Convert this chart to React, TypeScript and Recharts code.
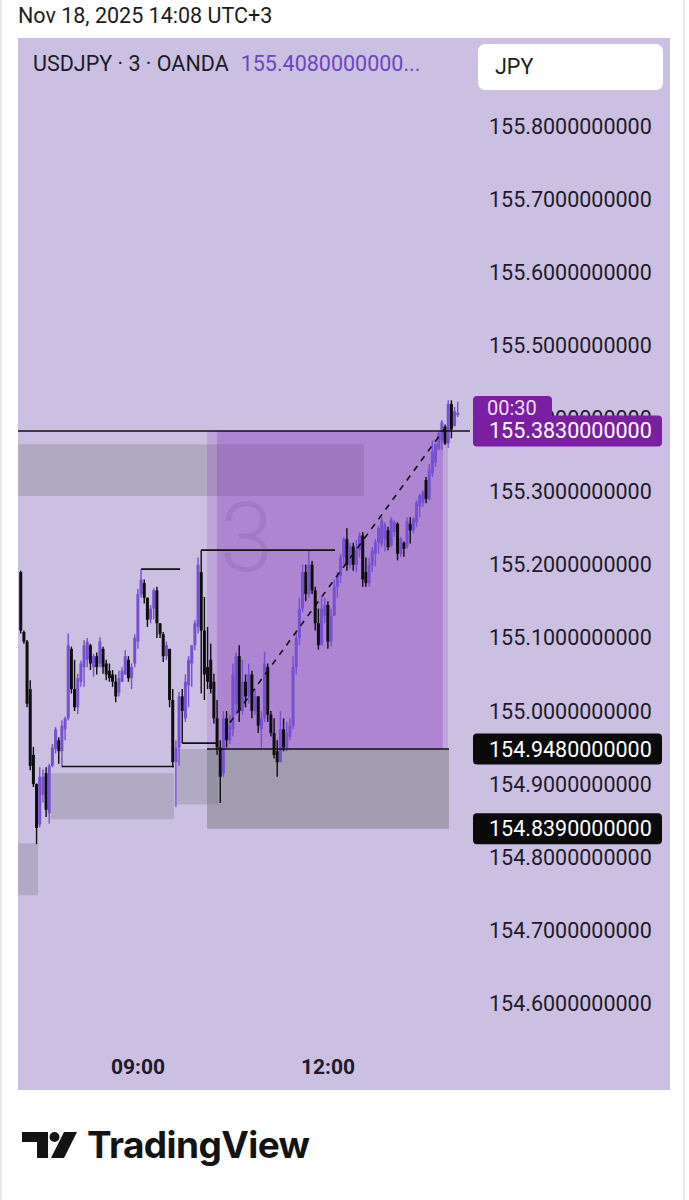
import React from 'react';
import {
  ComposedChart,
  Bar,
  XAxis,
  YAxis,
  ReferenceArea,
  ReferenceLine,
} from 'recharts';

// 3-minute USDJPY bars; index 0 is the 09:00 bar, the first visible bar is 07:09
const FIRST_BAR = -37;

// [open, high, low, close]
const candles: [number, number, number, number][] = [
  [155.19, 155.192, 155.106, 155.11],
  [155.108, 155.11, 155.092, 155.095],
  [155.095, 155.097, 155.005, 155.01],
  [155.03, 155.042, 154.919, 154.925],
  [154.94, 154.951, 154.896, 154.9],
  [154.9, 154.901, 154.818, 154.84],
  [154.845, 154.923, 154.841, 154.91],
  [154.885, 154.92, 154.875, 154.91],
  [154.915, 154.923, 154.855, 154.865],
  [154.86, 154.928, 154.846, 154.925],
  [154.925, 154.955, 154.923, 154.95],
  [154.948, 154.978, 154.942, 154.975],
  [154.96, 154.964, 154.928, 154.945],
  [154.945, 154.987, 154.923, 154.98],
  [154.975, 154.992, 154.96, 154.99],
  [154.99, 155.106, 154.987, 155.09],
  [155.085, 155.088, 155.024, 155.03],
  [155.03, 155.07, 155.0, 155.005],
  [155.005, 155.051, 154.996, 155.045],
  [155.04, 155.069, 155.033, 155.065],
  [155.06, 155.097, 155.033, 155.09],
  [155.07, 155.1, 155.06, 155.095],
  [155.09, 155.092, 155.056, 155.065],
  [155.06, 155.078, 155.047, 155.075],
  [155.075, 155.08, 155.05, 155.06],
  [155.065, 155.101, 155.06, 155.095],
  [155.085, 155.088, 155.051, 155.06],
  [155.065, 155.07, 155.042, 155.05],
  [155.055, 155.065, 155.04, 155.045],
  [155.05, 155.056, 155.033, 155.04],
  [155.04, 155.05, 155.012, 155.02],
  [155.025, 155.055, 155.02, 155.045],
  [155.04, 155.06, 155.04, 155.055],
  [155.05, 155.083, 155.05, 155.075],
  [155.07, 155.075, 155.04, 155.045],
  [155.045, 155.065, 155.03, 155.06],
  [155.065, 155.105, 155.06, 155.1],
  [155.095, 155.167, 155.085, 155.16],
  [155.16, 155.194, 155.155, 155.18],
  [155.175, 155.18, 155.147, 155.155],
  [155.155, 155.155, 155.115, 155.125],
  [155.125, 155.145, 155.12, 155.14],
  [155.14, 155.168, 155.125, 155.165],
  [155.165, 155.17, 155.1, 155.12],
  [155.12, 155.12, 155.1, 155.105],
  [155.105, 155.108, 155.067, 155.075],
  [155.075, 155.095, 155.07, 155.09],
  [155.085, 155.085, 155.005, 155.015],
  [155.015, 155.03, 154.923, 154.93],
  [154.93, 154.96, 154.869, 154.95],
  [154.95, 155.026, 154.925, 155.02],
  [155.02, 155.03, 154.956, 155.0],
  [154.99, 155.05, 154.985, 155.04],
  [155.035, 155.075, 155.005, 155.07],
  [155.065, 155.09, 155.033, 155.09],
  [155.09, 155.124, 155.083, 155.12],
  [155.115, 155.21, 155.106, 155.2],
  [155.19, 155.22, 155.024, 155.11],
  [155.11, 155.156, 155.015, 155.05],
  [155.06, 155.115, 155.03, 155.04],
  [155.07, 155.092, 155.024, 155.03],
  [155.04, 155.051, 154.983, 154.99],
  [154.99, 155.015, 154.94, 154.95],
  [154.95, 154.96, 154.874, 154.91],
  [154.915, 155.0, 154.91, 154.99],
  [154.99, 155.0, 154.95, 154.96],
  [154.96, 154.995, 154.955, 154.98],
  [154.975, 155.065, 154.965, 155.05],
  [155.01, 155.08, 154.995, 155.075],
  [155.075, 155.09, 154.985, 155.0],
  [155.0, 155.07, 154.995, 155.04],
  [155.04, 155.05, 155.005, 155.02],
  [155.02, 155.065, 155.01, 155.05],
  [155.05, 155.055, 154.99, 155.0],
  [155.0, 155.03, 154.995, 155.02],
  [155.02, 155.02, 154.97, 154.98],
  [154.975, 155.0, 154.95, 154.99],
  [154.99, 155.081, 154.985, 155.065],
  [155.06, 155.065, 154.985, 154.995],
  [154.995, 155.0, 154.965, 154.97],
  [154.97, 154.99, 154.935, 154.94],
  [154.945, 154.96, 154.91, 154.93],
  [154.93, 155.0, 154.93, 154.975],
  [154.975, 154.99, 154.945, 154.95],
  [154.95, 154.985, 154.945, 154.97],
  [154.965, 154.99, 154.96, 154.98],
  [154.98, 155.075, 154.975, 155.06],
  [155.06, 155.11, 155.05, 155.1],
  [155.1, 155.155, 155.09, 155.14],
  [155.14, 155.2, 155.135, 155.19],
  [155.19, 155.2, 155.15, 155.16],
  [155.16, 155.22, 155.155, 155.2],
  [155.2, 155.205, 155.16, 155.165],
  [155.165, 155.17, 155.11, 155.12],
  [155.12, 155.14, 155.084, 155.09],
  [155.09, 155.155, 155.09, 155.14],
  [155.13, 155.155, 155.12, 155.145],
  [155.145, 155.15, 155.085, 155.095],
  [155.095, 155.14, 155.088, 155.13],
  [155.13, 155.18, 155.13, 155.17],
  [155.17, 155.19, 155.155, 155.185],
  [155.185, 155.215, 155.175, 155.21],
  [155.21, 155.238, 155.2, 155.235],
  [155.235, 155.25, 155.192, 155.2],
  [155.2, 155.23, 155.195, 155.225],
  [155.225, 155.23, 155.192, 155.2],
  [155.2, 155.234, 155.19, 155.22],
  [155.22, 155.244, 155.21, 155.24],
  [155.24, 155.245, 155.17, 155.18],
  [155.19, 155.21, 155.17, 155.175],
  [155.175, 155.21, 155.17, 155.2],
  [155.2, 155.224, 155.19, 155.22],
  [155.215, 155.235, 155.198, 155.23],
  [155.23, 155.253, 155.215, 155.25],
  [155.228, 155.265, 155.224, 155.26],
  [155.235, 155.258, 155.218, 155.255],
  [155.247, 155.252, 155.22, 155.224],
  [155.226, 155.265, 155.224, 155.262],
  [155.245, 155.261, 155.238, 155.258],
  [155.256, 155.258, 155.206, 155.215],
  [155.215, 155.238, 155.211, 155.236],
  [155.23, 155.232, 155.211, 155.222],
  [155.225, 155.265, 155.222, 155.26],
  [155.256, 155.265, 155.229, 155.247],
  [155.247, 155.265, 155.243, 155.263],
  [155.258, 155.288, 155.252, 155.285],
  [155.28, 155.297, 155.265, 155.295],
  [155.285, 155.302, 155.279, 155.3],
  [155.316, 155.32, 155.284, 155.29],
  [155.29, 155.338, 155.288, 155.33],
  [155.325, 155.37, 155.32, 155.355],
  [155.34, 155.366, 155.334, 155.365],
  [155.358, 155.384, 155.357, 155.38],
  [155.37, 155.398, 155.357, 155.395],
  [155.389, 155.392, 155.364, 155.366],
  [155.366, 155.425, 155.36, 155.42],
  [155.42, 155.425, 155.373, 155.385],
  [155.39, 155.416, 155.389, 155.41],
  [155.405, 155.423, 155.402, 155.408],
];

const priceTicks = [154.6, 154.7, 154.8, 154.9, 155.0, 155.1, 155.2, 155.3, 155.4, 155.5, 155.6, 155.7, 155.8];
const timeTicks = [0, 60];
const timeLabels: Record<number, string> = { 0: '09:00', 60: '12:00' };

// price tags on the right scale
const tags = [
  { y: 155.383, text: '155.3830000000', bg: '#7b1fa2', timer: '00:30' },
  { y: 154.948, text: '154.9480000000', bg: '#0a0a0a' },
  { y: 154.839, text: '154.8390000000', bg: '#0a0a0a' },
];

// visible window (bar index, price)
const X_MIN = -37.89;
const X_MAX = 104.85;
const Y_MIN = 154.55;
const Y_MAX = 155.9;

// drawings on the chart, in bar index / price
const boxes = [
  { x1: X_MIN, x2: 71.4, y1: 155.294, y2: 155.365, fill: 'rgba(120,120,128,0.33)' },
  { x1: 21.8, x2: 97.9, y1: 154.948, y2: 155.383, fill: 'rgba(140,60,190,0.2)' },
  { x1: 24.9, x2: 96.3, y1: 154.948, y2: 155.383, fill: 'rgba(140,60,190,0.31)' },
  { x1: 21.8, x2: 98.2, y1: 154.839, y2: 154.948, fill: 'rgba(120,120,128,0.5)' },
  { x1: 12.3, x2: 25.3, y1: 154.872, y2: 154.948, fill: 'rgba(120,120,128,0.3)' },
  { x1: -27.5, x2: 11.4, y1: 154.852, y2: 154.915, fill: 'rgba(120,120,128,0.3)' },
  { x1: X_MIN, x2: -31.6, y1: 154.748, y2: 154.819, fill: 'rgba(120,120,128,0.3)' },
];

const segments = [
  { x1: 21.8, x2: 98.2, y: 154.948 },
  { x1: 19.9, x2: 62.2, y: 155.22 },
  { x1: 1.0, x2: 13.3, y: 155.194 },
  { x1: -24.0, x2: 11.4, y: 154.924 },
  { x1: 13.9, x2: 25.3, y: 154.956 },
];

const trendLine = [{ x: 29.0, y: 154.984 }, { x: 97.3, y: 155.389 }];

const LAVENDER = '#cbc0e1';
const UP = '#7650d0';
const DOWN = '#0d0d0d';
const TEXT = '#1e1a2b';
const FONT = 'Roboto, sans-serif';
const CHART_W = 652;
const CHART_H = 1052;
const MARGIN = { top: 15, right: 0, bottom: 0, left: 0 };

const data = candles.map(([o, h, l, c], k) => ({
  t: FIRST_BAR + k,
  o,
  h,
  l,
  c,
  range: [l, h],
}));

const Candle = (props: any) => {
  const { x, y, width, height, payload } = props;
  const { o, h, l, c } = payload;
  const color = c >= o ? UP : DOWN;
  const cx = x + width / 2;
  const top = Math.min(y, y + height);
  const span = Math.abs(height);
  const k = span / (h - l || 1e-9);
  const bTop = top + (h - Math.max(o, c)) * k;
  const bBot = top + (h - Math.min(o, c)) * k;
  return (
    <g>
      <line x1={cx} x2={cx} y1={top} y2={top + span} stroke={color} strokeWidth={1.4} />
      <rect x={cx - 1.5} y={bTop} width={3} height={Math.max(1.4, bBot - bTop)} fill={color} />
    </g>
  );
};

const PriceTick = (p: any) => (
  <text x={471} y={p.y} dominantBaseline="central" fill={TEXT} fontSize={21.5} fontFamily={FONT}>
    {Number(p.payload.value).toFixed(10)}
  </text>
);

const TimeTick = (p: any) => (
  <text x={p.x} y={1029} textAnchor="middle" dominantBaseline="central" fill={TEXT} fontSize={21} fontWeight={700} fontFamily={FONT}>
    {timeLabels[p.payload.value]}
  </text>
);

const priceTag = (text: string, bg: string, timer?: string) => (props: any) => {
  const { viewBox } = props;
  const y = viewBox.y;
  const x0 = viewBox.x + viewBox.width + 3;
  return (
    <g>
      {timer && (
        <g>
          <rect x={x0} y={y - 35} width={79} height={24} rx={4} fill={bg} />
          <text x={x0 + 14} y={y - 23} dominantBaseline="central" fill="#ecdcfb" fontSize={20} fontFamily={FONT}>
            {timer}
          </text>
        </g>
      )}
      <rect x={x0} y={y - 15.5} width={189} height={31} rx={4} fill={bg} />
      <text x={x0 + 16} y={y} dominantBaseline="central" fill="#fff" fontSize={21.5} fontFamily={FONT}>
        {text}
      </text>
    </g>
  );
};

const Logo = () => (
  <svg width={400} height={100} style={{ position: 'absolute', left: 0, top: 1100 }}>
    <polygon points="22,32 48,32 48,58 37,58 37,42 22,42" fill="#131313" />
    <circle cx={54.5} cy={37} r={5} fill="#131313" />
    <polygon points="64,32 77,32 64,58 51,58" fill="#131313" />
    <text x={87} y={58} fontSize={37} fontWeight={700} fontFamily="Inter, sans-serif" fill="#131313" letterSpacing={-0.6}>
      TradingView
    </text>
  </svg>
);

export default function App() {
  return (
    <div
      style={{
        position: 'absolute',
        left: 0,
        top: 0,
        width: 689,
        height: 1200,
        background: '#fff',
        fontFamily: FONT,
        overflow: 'hidden',
      }}
    >
      <div style={{ position: 'absolute', left: 0, top: 0, width: 2, height: 1200, background: '#e8e8ea' }} />
      <div style={{ position: 'absolute', left: 683, top: 0, width: 2, height: 1200, background: '#e8e8ea' }} />
      <div style={{ position: 'absolute', left: 18, top: 3, fontSize: 21.5, color: '#1c1c1c', whiteSpace: 'nowrap' }}>
        Nov 18, 2025 14:08 UTC+3
      </div>

      <div style={{ position: 'absolute', left: 18, top: 38, width: CHART_W, height: CHART_H, background: LAVENDER }}>
        <ComposedChart width={CHART_W} height={CHART_H} data={data} margin={MARGIN}>
          <XAxis
            dataKey="t"
            type="number"
            domain={[X_MIN, X_MAX]}
            allowDataOverflow
            ticks={timeTicks}
            tick={<TimeTick />}
            axisLine={false}
            tickLine={false}
            height={50}
          />
          <YAxis
            orientation="right"
            type="number"
            domain={[Y_MIN, Y_MAX]}
            allowDataOverflow
            ticks={priceTicks}
            tick={<PriceTick />}
            axisLine={false}
            tickLine={false}
            width={200}
          />
          {boxes.map((b, k) => (
            <ReferenceArea
              key={'box' + k}
              x1={b.x1}
              x2={b.x2}
              y1={b.y1}
              y2={b.y2}
              fill={b.fill}
              fillOpacity={1}
              stroke="none"
            />
          ))}
          <Bar dataKey="range" barSize={3} shape={<Candle />} isAnimationActive={false} />
          {segments.map((s, k) => (
            <ReferenceLine
              key={'seg' + k}
              segment={[{ x: s.x1, y: s.y }, { x: s.x2, y: s.y }]}
              stroke="#111"
              strokeWidth={1.6}
            />
          ))}
          <ReferenceLine segment={trendLine} stroke="#111" strokeWidth={1.6} strokeDasharray="6 6" />
          <ReferenceLine y={155.383} stroke="#111" strokeWidth={1.6} />
        </ComposedChart>

        {/* price tags sit above the scale labels, so they go in an overlay with the same scales */}
        <div style={{ position: 'absolute', left: 0, top: 0, pointerEvents: 'none' }}>
          <ComposedChart width={CHART_W} height={CHART_H} data={data} margin={MARGIN}>
            <XAxis dataKey="t" type="number" domain={[X_MIN, X_MAX]} allowDataOverflow tick={false} axisLine={false} tickLine={false} height={50} />
            <YAxis
              orientation="right"
              type="number"
              domain={[Y_MIN, Y_MAX]}
              allowDataOverflow
              tick={false}
              axisLine={false}
              tickLine={false}
              width={200}
            />
            {tags.map((t) => (
              <ReferenceLine key={t.text} y={t.y} stroke="none" label={priceTag(t.text, t.bg, t.timer)} />
            ))}
          </ComposedChart>
        </div>

        <div
          style={{
            position: 'absolute',
            left: 202,
            top: 444,
            fontSize: 96,
            fontWeight: 300,
            color: 'rgba(100,60,140,0.16)',
            pointerEvents: 'none',
          }}
        >
          3
        </div>

        <div style={{ position: 'absolute', left: 15, top: 13, fontSize: 21.5, color: TEXT, whiteSpace: 'nowrap' }}>
          USDJPY · 3 · OANDA
          <span style={{ color: '#6b46c1', marginLeft: 12 }}>155.4080000000...</span>
        </div>
        <div
          style={{
            position: 'absolute',
            left: 460,
            top: 6,
            width: 185,
            height: 46,
            background: '#fff',
            borderRadius: 7,
            boxSizing: 'border-box',
            paddingLeft: 17,
            lineHeight: '46px',
            fontSize: 21.5,
            color: '#1c1c1c',
          }}
        >
          JPY
        </div>
      </div>

      <Logo />
    </div>
  );
}
